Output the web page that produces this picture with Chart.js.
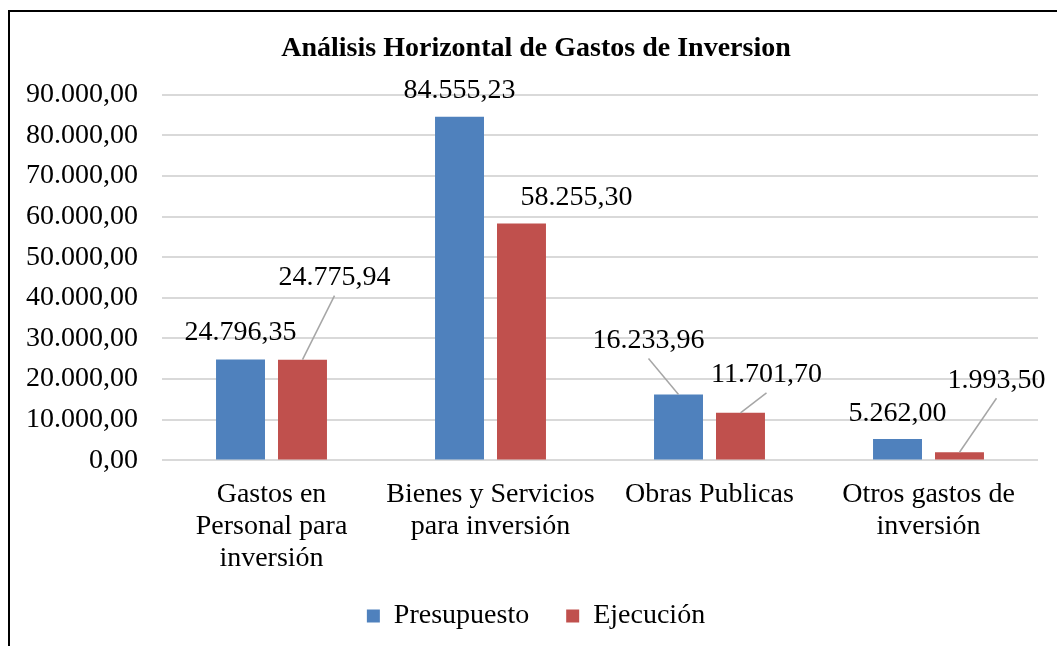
<!DOCTYPE html>
<html>
<head>
<meta charset="utf-8">
<script src="https://cdn.jsdelivr.net/npm/chart.js@4/dist/chart.umd.min.js"></script>
<style>
  html, body { margin: 0; padding: 0; background: #fff; }
  #wrap { position: relative; width: 1057px; height: 646px; overflow: hidden; }
  #frame { position: absolute; left: 8px; top: 10px; width: 1100px; height: 700px;
           border-left: 2px solid #000; border-top: 2px solid #000; }
  canvas { position: absolute; left: 0; top: 0; }
</style>
</head>
<body>
<div id="wrap">
  <div id="frame"></div>
  <canvas id="chart" width="1057" height="646"></canvas>
</div>
<script>
// datos
const categories = [
  ['Gastos en', 'Personal para', 'inversión'],
  ['Bienes y Servicios', 'para inversión'],
  'Obras Publicas',
  ['Otros gastos de', 'inversión']
];
const presupuesto = [24796.35, 84555.23, 16233.96, 5262.00];
const ejecucion = [24775.94, 58255.30, 11701.70, 1993.50];
const yTicks = [0, 10000, 20000, 30000, 40000, 50000, 60000, 70000, 80000, 90000];

// posicion de las etiquetas respecto a la parte superior de cada barra
const labelStyle = [
  [{ dx: 0, dy: -27, line: false }, { dx: 0, dy: -26, line: false }, { dx: -30, dy: -54, line: true }, { dx: 0, dy: -25, line: false }],
  [{ dx: 32, dy: -82, line: true }, { dx: 55, dy: -26, line: false }, { dx: 26, dy: -38, line: true }, { dx: 37, dy: -72, line: true }]
];

const FONT = '"Liberation Serif", "Times New Roman", serif';

// formato 12.345,67
function fmt(v) {
  const parts = v.toFixed(2).split('.');
  return parts[0].replace(/\B(?=(\d{3})+(?!\d))/g, '.') + ',' + parts[1];
}

const dataLabels = {
  id: 'dataLabels',
  afterDatasetsDraw(chart) {
    const ctx = chart.ctx;
    ctx.save();
    ctx.font = '28px ' + FONT;
    ctx.textAlign = 'center';
    ctx.textBaseline = 'middle';
    chart.data.datasets.forEach((ds, di) => {
      const meta = chart.getDatasetMeta(di);
      meta.data.forEach((bar, i) => {
        const st = labelStyle[di][i];
        const tx = bar.x + st.dx;
        const ty = bar.y + st.dy;
        if (st.line) {
          ctx.strokeStyle = '#a6a6a6';
          ctx.lineWidth = 1.5;
          ctx.beginPath();
          ctx.moveTo(bar.x, bar.y);
          ctx.lineTo(tx, ty + 18);
          ctx.stroke();
        }
        ctx.fillStyle = '#000';
        ctx.fillText(fmt(ds.data[i]), tx, ty);
      });
    });
    ctx.restore();
  }
};

// el eje y puede dibujar sus etiquetas dentro del margen izquierdo
const yLabelRoom = {
  id: 'yLabelRoom',
  afterLayout(chart) { chart.scales.y.left = 0; }
};

const ctx = document.getElementById('chart').getContext('2d');
new Chart(ctx, {
  type: 'bar',
  data: {
    labels: categories,
    datasets: [
      { label: 'Presupuesto', data: presupuesto, backgroundColor: '#4F81BD' },
      { label: 'Ejecución', data: ejecucion, backgroundColor: '#C0504D' }
    ]
  },
  options: {
    responsive: false,
    animation: false,
    categoryPercentage: 0.566,
    barPercentage: 0.79,
    layout: { padding: { left: 34, right: 19, top: 20, bottom: 6 } },
    plugins: {
      title: {
        display: true,
        text: 'Análisis Horizontal de Gastos de Inversion',
        color: '#000',
        font: { family: FONT, size: 28, weight: 'bold' },
        padding: { top: 12, bottom: 29 }
      },
      legend: {
        position: 'bottom',
        labels: {
          color: '#000',
          font: { family: FONT, size: 28 },
          boxWidth: 13,
          boxHeight: 13,
          padding: 9,
          // espacio extra entre los dos elementos de la leyenda
          generateLabels(chart) {
            const items = Chart.defaults.plugins.legend.labels.generateLabels(chart);
            items.forEach((it, i) => { if (i < items.length - 1) it.text += '    '; });
            return items;
          }
        }
      },
      tooltip: { enabled: false }
    },
    scales: {
      x: {
        grid: { display: false, drawTicks: false },
        border: { display: false },
        ticks: {
          color: '#000',
          font: { family: FONT, size: 28, lineHeight: 1.15 },
          maxRotation: 0,
          autoSkip: false,
          padding: 18
        }
      },
      y: {
        min: 0,
        max: 90000,
        afterFit(scale) { scale.width = 128; },
        afterBuildTicks(scale) { scale.ticks = yTicks.map(v => ({ value: v })); },
        grid: { color: '#d9d9d9', lineWidth: 2, drawTicks: false },
        border: { display: false },
        ticks: {
          color: '#000',
          font: { family: FONT, size: 28 },
          padding: 24,
          callback: (v) => fmt(v)
        }
      }
    }
  },
  plugins: [dataLabels, yLabelRoom]
});
</script>
</body>
</html>
